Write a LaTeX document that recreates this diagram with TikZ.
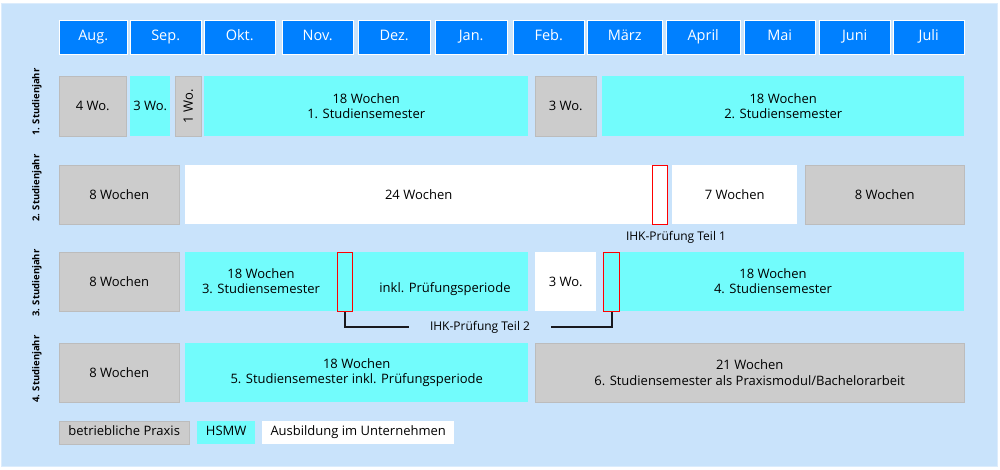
\documentclass[tikz,border=0pt]{standalone}
\usepackage{fontspec}
\setmainfont{Open Sans}
\usepackage{graphicx}
\definecolor{bgblue}{RGB}{201,227,251}
\definecolor{bgedge}{RGB}{220,236,252}
\definecolor{monthblue}{RGB}{0,128,255}
\definecolor{hsmwcyan}{RGB}{114,252,252}
\definecolor{praxisgray}{RGB}{204,204,204}
\definecolor{praxisedge}{RGB}{188,188,188}
\definecolor{linkblack}{RGB}{25,25,30}

\begin{document}
\begin{tikzpicture}[x=1pt,y=-1pt]
\tikzstyle{every node}=[inner sep=0pt,align=center,font=\fontsize{13}{15.5}\selectfont]
\tikzstyle{box}=[anchor=north west,minimum height=59]
\tikzstyle{month}=[box,minimum height=34,fill=monthblue,draw=white,text=white,
  text height=10.5pt,text depth=3pt,font=\fontsize{14.5}{16}\selectfont]
\tikzstyle{praxis}=[box,fill=praxisgray,draw=praxisedge]
\tikzstyle{hsmw}=[box,fill=hsmwcyan]
\tikzstyle{firm}=[box,fill=white]
\tikzstyle{exam}=[box,draw=red,line width=1.3pt]
\tikzstyle{legend}=[minimum height=23,text height=9pt,text depth=3pt]
\tikzstyle{year}=[rotate=90,font=\bfseries\fontsize{9.5}{11}\selectfont]
\tikzstyle{note}=[font=\fontsize{12}{14}\selectfont]
\tikzstyle{link}=[line width=2pt,draw=linkblack]
\useasboundingbox (0,0) rectangle (1000,470);
\fill[bgblue,draw=bgedge] (1,3) rectangle (997,466);

\foreach \name/\txt/\xa/\xb in {aug/Aug./59/127,sep/Sep./130/201,okt/Okt./204/275,
  nov/Nov./282/353,dez/Dez./358/430,jan/Jan./435/507,feb/Feb./513/584,
  mrz/März/587/662,apr/April/666/740,mai/Mai/744/815,jun/Juni/819/890,jul/Juli/893/964}
 \node [month,minimum width={\xb-\xa}] (\name) at (\xa,20) {\txt};

\node [year] (y1) at (37,102) {1. Studienjahr};
\node [year] (y2) at (37,188) {2. Studienjahr};
\node [year] (y3) at (37,283) {3. Studienjahr};
\node [year] (y4) at (37,369) {4. Studienjahr};

\node [praxis,minimum width=67,minimum height=60] (r1a) at (59,76) {4 Wo.};
\node [hsmw,minimum width=40,minimum height=60] (r1b) at (130,76) {3 Wo.};
\node [praxis,minimum width=26,minimum height=60] (r1c) at (175,76) {\rotatebox{90}{1 Wo.}};
\node [hsmw,minimum width=324,minimum height=60] (r1d) at (204,76) {18 Wochen\\1. Studiensemester};
\node [praxis,minimum width=61,minimum height=60] (r1e) at (535,76) {3 Wo.};
\node [hsmw,minimum width=362,minimum height=60] (r1f) at (602,76) {18 Wochen\\2. Studiensemester};

\node [praxis,minimum width=120] (r2a) at (59,165) {8 Wochen};
\node [firm,minimum width=467] (r2b) at (185,165) {24 Wochen};
\node [exam,fill=white,minimum width=15] (r2x) at (652,165) {};
\node [firm,minimum width=125] (r2c) at (672,165) {7 Wochen};
\node [praxis,minimum width=159] (r2d) at (805,165) {8 Wochen};
\node [note] (ihk1) at (676,237) {IHK-Prüfung Teil 1};

\node [praxis,minimum width=120] (r3a) at (59,252) {8 Wochen};
\node [hsmw,minimum width=343] (r3b) at (185,252) {};
\node (r3t1) at (261,281) {18 Wochen\\3. Studiensemester};
\node (r3t2) at (445,289) {inkl. Prüfungsperiode};
\node [exam,fill=hsmwcyan,minimum width=15] (r3x) at (337,252) {};
\node [firm,minimum width=61] (r3c) at (535,252) {3 Wo.};
\node [hsmw,minimum width=361] (r3d) at (603,252) {};
\node (r3t3) at (773,281) {18 Wochen\\4. Studiensemester};
\node [exam,fill=hsmwcyan,minimum width=16] (r3y) at (603,252) {};
\node [note] (ihk2) at (480,327) {IHK-Prüfung Teil 2};
\draw [link] (r3x.south) |- ([xshift=-21pt]ihk2.west);
\draw [link] ([xshift=21pt]ihk2.east) -| (r3y.south);

\node [praxis,minimum width=120] (r4a) at (59,343) {8 Wochen};
\node [hsmw,minimum width=343] (r4b) at (185,343) {18 Wochen\\5. Studiensemester inkl. Prüfungsperiode};
\node [praxis,minimum width=429] (r4c) at (535,343) {21 Wochen\\6. Studiensemester als Praxismodul/Bachelorarbeit};

\node [praxis,legend,minimum width=130] (lgpraxis) at (59,421) {betriebliche Praxis};
\node [hsmw,legend,minimum width=58] (lghsmw) at (197,421) {HSMW};
\node [firm,legend,minimum width=192] (lgfirm) at (262,421) {Ausbildung im Unternehmen};
\end{tikzpicture}
\end{document}
